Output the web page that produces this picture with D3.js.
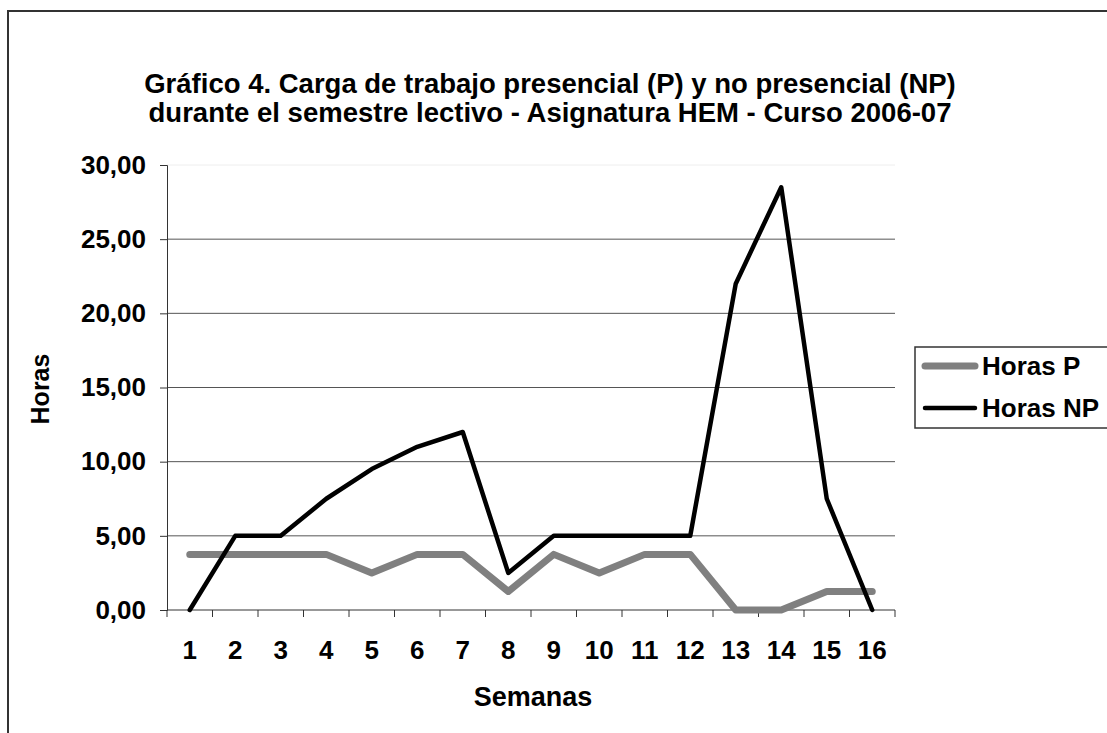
<!DOCTYPE html>
<html>
<head>
<meta charset="utf-8">
<script src="https://cdn.jsdelivr.net/npm/d3@7"></script>
<style>
  body { margin: 0; background: #fff; }
  text { font-family: Arial, 'Liberation Sans', sans-serif; font-weight: bold; fill: #000; }
</style>
</head>
<body>
<div id="chart"></div>
<script>
// weeks of the semester
const weeks = ['1', '2', '3', '4', '5', '6', '7', '8', '9', '10', '11', '12', '13', '14', '15', '16']
// hours per week
const horasP = [3.75, 3.75, 3.75, 3.75, 2.5, 3.75, 3.75, 1.25, 3.75, 2.5, 3.75, 3.75, 0, 0, 1.25, 1.25]
const horasNP = [0, 5, 5, 7.5, 9.5, 11, 12, 2.5, 5, 5, 5, 5, 22, 28.5, 7.5, 0]
const yTicks = [0, 5, 10, 15, 20, 25, 30]
const seriesNames = ['Horas P', 'Horas NP']

const W = 1107
const H = 733
const margin = { top: 165, left: 167, right: W - 895, bottom: H - 610 }
const width = W - margin.left - margin.right
const height = H - margin.top - margin.bottom

const svg = d3.select('#chart').append('svg').attr('width', W).attr('height', H)

// outer chart border (runs off the right and bottom edges)
svg.append('rect')
  .attr('x', 8).attr('y', 11)
  .attr('width', W + 10).attr('height', H + 10)
  .attr('fill', 'none').attr('stroke', '#333').attr('stroke-width', 2)

// title
const title = svg.append('text')
  .attr('text-anchor', 'middle')
  .attr('font-size', '27.5px')
title.append('tspan').attr('x', 550).attr('y', 93).text('Gráfico 4. Carga de trabajo presencial (P) y no presencial (NP)')
title.append('tspan').attr('x', 550).attr('y', 122).text('durante el semestre lectivo - Asignatura HEM - Curso 2006-07')

const g = svg.append('g').attr('transform', `translate(${margin.left},${margin.top})`)

const x = d3.scaleBand().domain(weeks).range([0, width])
const y = d3.scaleLinear().domain([0, 30]).range([height, 0])
const cx = (i) => x(weeks[i]) + x.bandwidth() / 2

// gridlines
g.append('g')
  .selectAll('line')
  .data(yTicks.filter((d) => d > 0))
  .enter()
  .append('line')
  .attr('x1', 0).attr('x2', width)
  .attr('y1', (d) => y(d)).attr('y2', (d) => y(d))
  .attr('stroke', (d) => (d === 30 ? '#eee' : '#555'))
  .attr('stroke-width', 1)

// y axis
const yAxis = g.append('g')
  .call(d3.axisLeft(y).tickValues(yTicks).tickSize(7).tickPadding(14)
    .tickFormat((d) => d3.format('.2f')(d).replace('.', ',')))
yAxis.select('.domain').attr('stroke', '#333')
yAxis.selectAll('.tick line').attr('stroke', '#333')
yAxis.selectAll('text').attr('font-size', '26px').attr('fill', '#000')
  .style('font-family', 'Arial, Liberation Sans, sans-serif').style('font-weight', 'bold')

// x axis: ticks between categories
const xAxis = g.append('g').attr('transform', `translate(0,${height})`)
xAxis.append('line').attr('x1', 0).attr('x2', width).attr('stroke', '#333')
xAxis.selectAll('line.tk')
  .data(d3.range(weeks.length + 1))
  .enter()
  .append('line')
  .attr('class', 'tk')
  .attr('x1', (i) => (i < weeks.length ? x(weeks[i]) : width))
  .attr('x2', (i) => (i < weeks.length ? x(weeks[i]) : width))
  .attr('y1', 0).attr('y2', 7)
  .attr('stroke', '#333')
xAxis.selectAll('text')
  .data(weeks)
  .enter()
  .append('text')
  .attr('x', (d, i) => cx(i))
  .attr('y', 49)
  .attr('text-anchor', 'middle')
  .attr('font-size', '26px')
  .text((d) => d)

// axis titles
svg.append('text')
  .attr('x', 533).attr('y', 706)
  .attr('text-anchor', 'middle')
  .attr('font-size', '27px')
  .text('Semanas')
svg.append('text')
  .attr('transform', 'translate(49,389) rotate(-90)')
  .attr('text-anchor', 'middle')
  .attr('font-size', '25px')
  .text('Horas')

// lines
const line = d3.line().x((d, i) => cx(i)).y((d) => y(d))
g.append('path').datum(horasP)
  .attr('d', line).attr('fill', 'none')
  .attr('stroke', '#808080').attr('stroke-width', 7)
  .attr('stroke-linecap', 'round').attr('stroke-linejoin', 'round')
g.append('path').datum(horasNP)
  .attr('d', line).attr('fill', 'none')
  .attr('stroke', '#000').attr('stroke-width', 4.5)
  .attr('stroke-linecap', 'round').attr('stroke-linejoin', 'round')

// legend
const legend = svg.append('g').attr('transform', 'translate(915,347)')
legend.append('rect')
  .attr('width', 220).attr('height', 81)
  .attr('fill', '#fff').attr('stroke', '#333').attr('stroke-width', 1.5)
const colors = ['#808080', '#000']
const lw = [7, 4.5]
seriesNames.forEach((name, i) => {
  legend.append('line')
    .attr('x1', 10).attr('x2', 60)
    .attr('y1', 19 + i * 42).attr('y2', 19 + i * 42)
    .attr('stroke', colors[i]).attr('stroke-width', lw[i])
    .attr('stroke-linecap', 'round')
  legend.append('text')
    .attr('x', 67).attr('y', 28 + i * 42)
    .attr('font-size', '26px')
    .text(name)
})
</script>
</body>
</html>
